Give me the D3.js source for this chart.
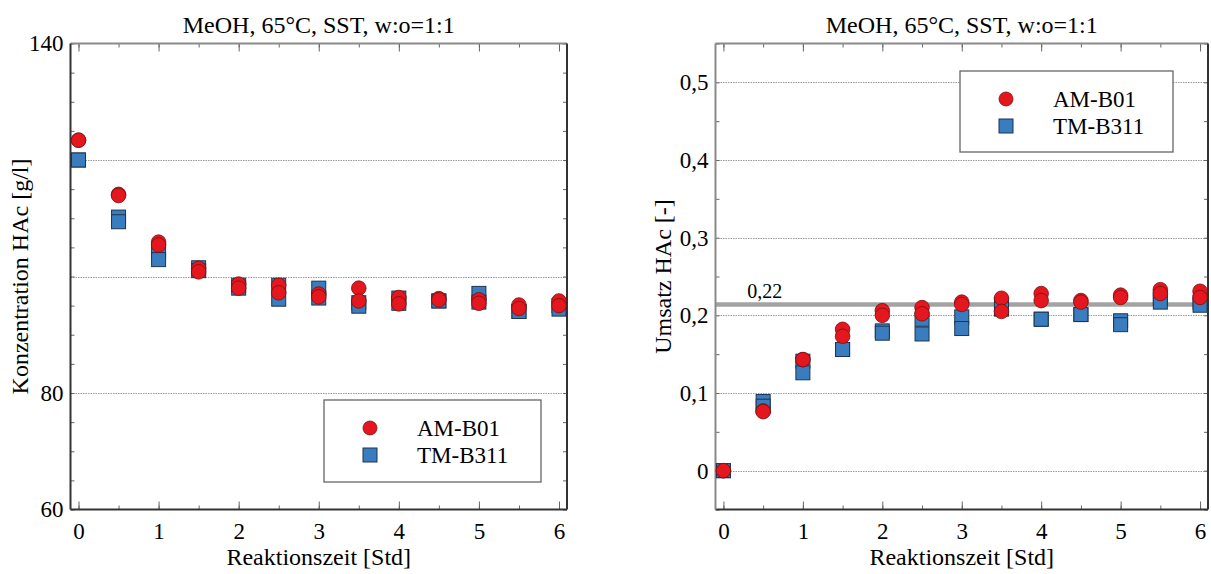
<!DOCTYPE html>
<html>
<head>
<meta charset="utf-8">
<script src="https://cdn.jsdelivr.net/npm/d3@7"></script>
<style>
  html, body { margin: 0; padding: 0; background: #fff; }
  svg { display: block; }
  text { font-family: "Liberation Serif", "Times New Roman", serif; fill: #000; }
</style>
</head>
<body>
<svg id="chart" width="1211" height="574"></svg>
<script>
// ---------------- data ----------------
const times = [0, 0.5, 1, 1.5, 2, 2.5, 3, 3.5, 4, 4.5, 5, 5.5, 6];
const xTickLabels = [0, 1, 2, 3, 4, 5, 6];
const seriesNames = ["AM-B01", "TM-B311"];
const chartTitle = "MeOH, 65°C, SST, w:o=1:1";

// Konzentration HAc [g/l], two replicate measurements per time
const concAM1 = [123.4, 114.1, 105.9, 101.4, 98.7, 98.5, 97.0, 98.0, 96.4, 96.2, 96.0, 95.1, 95.8];
const concAM2 = [123.4, 113.9, 105.4, 100.8, 98.0, 97.2, 96.5, 95.8, 95.3, 96.0, 95.4, 94.5, 95.0];
const concTM1 = [120.0, 110.2, 104.4, 101.5, 98.5, 98.5, 98.0, 95.5, 96.3, 95.8, 97.1, 94.0, 95.0];
const concTM2 = [120.0, 109.4, 102.9, 101.0, 98.0, 96.1, 96.3, 94.9, 95.4, 95.8, 95.6, 94.0, 94.4];

// Umsatz HAc [-]
const convAM1 = [0, 0.077, 0.143, 0.182, 0.206, 0.210, 0.217, 0.222, 0.228, 0.219, 0.226, 0.233, 0.231];
const convAM2 = [0, 0.076, 0.143, 0.173, 0.200, 0.202, 0.214, 0.205, 0.219, 0.217, 0.223, 0.228, 0.223];
const convTM1 = [0, 0.089, 0.141, 0.156, 0.180, 0.195, 0.198, 0.214, 0.195, 0.201, 0.193, 0.222, 0.217];
const convTM2 = [0, 0.083, 0.126, 0.156, 0.177, 0.176, 0.183, 0.208, 0.195, 0.201, 0.188, 0.217, 0.213];

const concLabelTicks = [60, 80, 140];
const concGrid = [80, 100, 120];
const convTicks = [0, 0.1, 0.2, 0.3, 0.4, 0.5];
const convRef = 0.214;
const convRefLabel = "0,22";

// ---------------- drawing ----------------
const svg = d3.select("#chart");
const RED = "#e3171d", RED_STROKE = "#7a1010";
const BLUE = "#3a7dbf", BLUE_STROKE = "#1d3550";
const FONT = "'Liberation Serif', 'Times New Roman', serif";

function pairs(xs, ys) { return xs.map((t, i) => ({ t: t, v: ys[i] })); }

function drawPanel(cfg) {
  const g = svg.append("g");
  const x = d3.scaleLinear().domain([-0.1, 6.1]).range([cfg.x0, cfg.x1]);
  const y = d3.scaleLinear().domain(cfg.yDomain).range([cfg.y1, cfg.y0]);

  // grid lines
  g.append("g").selectAll("line").data(cfg.grid).join("line")
    .attr("x1", cfg.x0).attr("x2", cfg.x1)
    .attr("y1", d => Math.round(y(d)) + 0.5).attr("y2", d => Math.round(y(d)) + 0.5)
    .attr("stroke", "#9a9a9a").attr("stroke-width", 1).attr("stroke-dasharray", "1.5,1");

  // reference line
  if (cfg.ref !== undefined) {
    g.append("line")
      .attr("x1", cfg.x0).attr("x2", cfg.x1)
      .attr("y1", y(cfg.ref)).attr("y2", y(cfg.ref))
      .attr("stroke", "#a3a3a3").attr("stroke-width", 4.5);
    g.append("text").attr("x", x(0.3)).attr("y", y(cfg.ref) - 6)
      .attr("font-size", 20).attr("font-family", FONT).text(cfg.refLabel);
  }

  // ticks (inside)
  const minorX = d3.range(0, 6.01, 0.5);
  [d3.axisTop(x).tickValues(minorX).tickSize(4).tickFormat(""),
   d3.axisTop(x).tickValues(xTickLabels).tickSize(8).tickFormat("")].forEach(ax => {
    g.append("g").attr("transform", `translate(0,${cfg.y1})`).call(ax).call(s => s.select(".domain").remove());
  });
  [d3.axisBottom(x).tickValues(minorX).tickSize(4).tickFormat(""),
   d3.axisBottom(x).tickValues(xTickLabels).tickSize(8).tickFormat("")].forEach(ax => {
    g.append("g").attr("transform", `translate(0,${cfg.y0})`).call(ax).call(s => s.select(".domain").remove());
  });
  g.append("g").attr("transform", `translate(${cfg.x0},0)`)
    .call(d3.axisRight(y).tickValues(cfg.yMinor).tickSize(4).tickFormat(""))
    .call(s => s.select(".domain").remove());
  g.append("g").attr("transform", `translate(${cfg.x1},0)`)
    .call(d3.axisLeft(y).tickValues(cfg.yMinor).tickSize(4).tickFormat(""))
    .call(s => s.select(".domain").remove());
  g.selectAll(".tick line").attr("stroke", "#666");

  // tick labels
  g.append("g").attr("transform", `translate(0,${cfg.y1})`)
    .call(d3.axisBottom(x).tickValues(xTickLabels).tickSize(0).tickPadding(13).tickFormat(d3.format("d")))
    .call(s => s.select(".domain").remove())
    .call(s => s.selectAll("text").attr("font-size", 23).attr("font-family", FONT).attr("fill", "#000"));
  g.append("g").attr("transform", `translate(${cfg.x0},0)`)
    .call(d3.axisLeft(y).tickValues(cfg.yLabels).tickSize(0).tickPadding(cfg.yPad).tickFormat(cfg.yFmt))
    .call(s => s.select(".domain").remove())
    .call(s => s.selectAll("text").attr("font-size", 23).attr("font-family", FONT).attr("fill", "#000"));

  // frame
  const frame = [
    [cfg.x0, cfg.y0, cfg.x1, cfg.y0, "#8a8a8a"],
    [cfg.x0, cfg.y1, cfg.x1, cfg.y1, "#333"],
    [cfg.x0, cfg.y0, cfg.x0, cfg.y1, cfg.leftSpine],
    [cfg.x1, cfg.y0, cfg.x1, cfg.y1, "#333"]
  ];
  g.append("g").selectAll("line").data(frame).join("line")
    .attr("x1", d => d[0]).attr("y1", d => d[1]).attr("x2", d => d[2]).attr("y2", d => d[3])
    .attr("stroke", d => d[4]).attr("stroke-width", 2);

  // markers: squares first, circles on top
  const sq = 14;
  const squares = cfg.tm.flatMap(arr => pairs(times, arr));
  g.append("g").selectAll("rect").data(squares).join("rect")
    .attr("x", d => x(d.t) - sq / 2).attr("y", d => y(d.v) - sq / 2)
    .attr("width", sq).attr("height", sq)
    .attr("fill", BLUE).attr("stroke", BLUE_STROKE).attr("stroke-width", 1);
  const circles = cfg.am.flatMap(arr => pairs(times, arr));
  g.append("g").selectAll("circle").data(circles).join("circle")
    .attr("cx", d => x(d.t)).attr("cy", d => y(d.v)).attr("r", 7.3)
    .attr("fill", RED).attr("stroke", RED_STROKE).attr("stroke-width", 0.8);

  // title
  g.append("text").attr("x", (cfg.x0 + cfg.x1) / 2).attr("y", 33)
    .attr("text-anchor", "middle").attr("font-size", 24).attr("font-family", FONT).text(chartTitle);
  // x label
  g.append("text").attr("x", (cfg.x0 + cfg.x1) / 2).attr("y", 565)
    .attr("text-anchor", "middle").attr("font-size", 24).attr("font-family", FONT).text("Reaktionszeit [Std]");
  // y label
  g.append("text")
    .attr("transform", `translate(${cfg.yLabelX},${(cfg.y0 + cfg.y1) / 2}) rotate(-90)`)
    .attr("text-anchor", "middle").attr("font-size", 24).attr("font-family", FONT).text(cfg.yLabel);

  // legend
  const L = cfg.legend;
  const lg = g.append("g");
  lg.append("rect").attr("x", L.x).attr("y", L.y).attr("width", L.w).attr("height", L.h)
    .attr("fill", "#fff").attr("stroke", "#666").attr("stroke-width", 1.3);
  lg.append("circle").attr("cx", L.x + 46).attr("cy", L.y + 28).attr("r", 7)
    .attr("fill", RED).attr("stroke", RED_STROKE).attr("stroke-width", 0.8);
  lg.append("rect").attr("x", L.x + 39).attr("y", L.y + 55 - 7).attr("width", 14).attr("height", 14)
    .attr("fill", BLUE).attr("stroke", BLUE_STROKE).attr("stroke-width", 1);
  lg.selectAll("text.leg").data(seriesNames).join("text").attr("class", "leg")
    .attr("x", L.x + 93).attr("y", (d, i) => L.y + 36 + i * 27)
    .attr("font-size", 23).attr("font-family", FONT).text(d => d);
}

drawPanel({
  x0: 70.5, x1: 567, y0: 43.5, y1: 509.5,
  yDomain: [60, 140],
  grid: concGrid,
  yMinor: d3.range(60, 140.01, 5),
  yLabels: concLabelTicks, yFmt: d3.format("d"), yPad: 7,
  leftSpine: "#333",
  am: [concAM1, concAM2], tm: [concTM1, concTM2],
  yLabel: "Konzentration HAc [g/l]", yLabelX: 28,
  legend: { x: 324, y: 400, w: 217, h: 82 }
});

drawPanel({
  x0: 715.5, x1: 1208, y0: 43.5, y1: 509.5,
  yDomain: [-0.05, 0.55],
  grid: convTicks,
  yMinor: d3.range(-0.05, 0.551, 0.05).map(v => +v.toFixed(2)),
  yLabels: convTicks, yFmt: d => d === 0 ? "0" : d3.format(".1f")(d).replace(".", ","), yPad: 7,
  leftSpine: "#8a8a8a",
  ref: convRef, refLabel: convRefLabel,
  am: [convAM1, convAM2], tm: [convTM1, convTM2],
  yLabel: "Umsatz HAc [-]", yLabelX: 671,
  legend: { x: 960, y: 71, w: 213, h: 81 }
});
</script>
</body>
</html>
